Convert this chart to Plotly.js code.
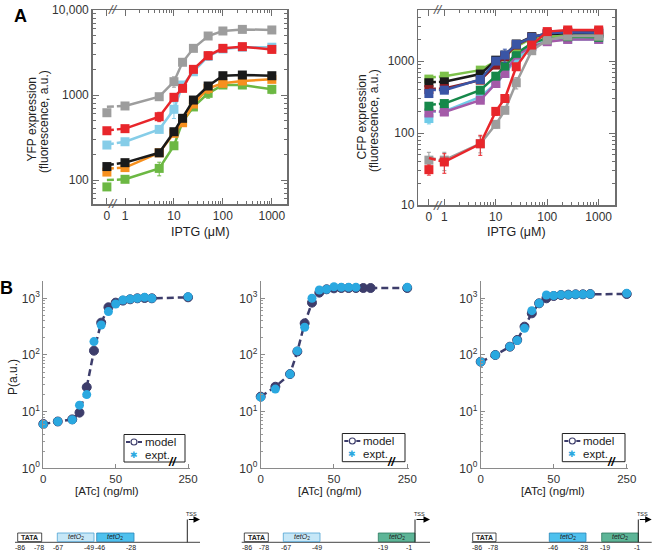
<!DOCTYPE html>
<html><head><meta charset="utf-8">
<script src="https://cdn.plot.ly/plotly-3.0.1.min.js"></script>
<style>html,body{margin:0;padding:0;background:#fff}</style>
</head><body><div id="chart" style="width:654px;height:551px"></div>
<script>
// ---------- DATA ----------
const IPTG = [0, 1, 5, 10, 15, 25, 50, 100, 250, 1000];
const iptgTickText = ['0', '1', '10', '100', '1000'];

// Panel A, YFP expression (fluorescence, a.u.)
const yfpGray   = [619, 743, 955, 1436, 2427, 3540, 4943, 5663, 5916, 5823];
const yfpRed    = [380, 402, 556, 940, 1197, 2004, 2905, 3540, 3706, 3440];
const yfpCyan   = [258, 282, 394, 679, 1311, 1878, 2850, 3480, 3650, 3650];
const yfpBlack  = [144, 160, 209, 370, 532, 873, 1276, 1687, 1718, 1687];
const yfpOrange = [124, 140, 209, 354, 472, 783, 1197, 1372, 1462, 1528];
const yfpGreen  = [83, 102, 137, 253, 485, 724, 1047, 1311, 1311, 1166];
const yfpFit0   = {gray: 728, red: 385, cyan: 262, black: 150, orange: 136, green: 100};
const yfpErrGray   = [30, 40, 60, 200, 150, 200, 400, 250, 200, 250];
const yfpErrRed    = [20, 20, 70, 90, 100, 150, 300, 250, 200, 300];
const yfpErrCyan   = [10, 15, 30, 150, 120, 100, 200, 200, 200, 200];
const yfpErrBlack  = [6, 8, 10, 20, 30, 60, 80, 100, 100, 100];
const yfpErrOrange = [6, 8, 10, 20, 30, 60, 150, 80, 80, 80];
const yfpErrGreen  = [4, 5, 25, 20, 30, 50, 130, 80, 80, 130];

// Panel A, CFP expression (fluorescence, a.u.)
const cfpLightGreen = [562, 617, 749, 1000, 1150, 1585, 2070, 2180, 2250, 2230];
const cfpBlack      = [500, 515, 660, 1030, 1210, 1727, 2185, 2357, 2430, 2430];
const cfpMaroon     = [402, 415, 543, 880, 1150, 1670, 2140, 2430, 2570, 2570];
const cfpBlue       = [354, 394, 555, 1000, 1213, 1708, 2140, 2430, 2510, 2480];
const cfpDarkGreen  = [236, 257, 394, 617, 852, 1280, 1763, 2070, 2180, 2140];
const cfpPurple     = [190, 196, 286, 488, 673, 1213, 1585, 1860, 2000, 2000];
const cfpLightCyan  = [159, 200, 318, 488, 673, 1055, 1585, 1922, 2000, 2000];
const cfpGray       = [42, 42, 71, 132, 207, 500, 1394, 1963, 2230, 2230];
const cfpRed        = [31, 39.6, 71, 200, 302, 834, 1670, 2570, 2707, 2707];
const cfpFit0 = {lightGreen: 590, black: 510, maroon: 410, blue: 400, darkGreen: 245, purple: 205, lightCyan: 200, gray: 45, red: 45};
const cfpErrLightGreen = [40, 40, 50, 80, 80, 100, 100, 100, 100, 100];
const cfpErrBlack      = [30, 30, 40, 80, 80, 100, 100, 100, 100, 100];
const cfpErrMaroon     = [30, 30, 40, 80, 80, 100, 100, 100, 100, 100];
const cfpErrBlue       = [30, 30, 40, 100, 250, 150, 150, 100, 100, 100];
const cfpErrDarkGreen  = [20, 20, 30, 50, 80, 100, 100, 100, 100, 100];
const cfpErrPurple     = [15, 15, 20, 40, 60, 100, 100, 100, 100, 100];
const cfpErrLightCyan  = [25, 15, 30, 40, 60, 100, 100, 100, 100, 100];
const cfpErrGray       = [12, 12, 18, 15, 20, 90, 150, 100, 100, 100];
const cfpErrRed        = [5, 12, 22, 25, 30, 80, 150, 150, 100, 100];

// Panel B, P (a.u.) vs [ATc] (ng/ml)
const ATC = [0, 10, 20, 25, 30, 35, 40, 45, 50, 55, 60, 65, 70, 75, 250];
const b1Model = [6.06, 6.7, 7.3, 9.6, 27, 119, 372, 694, 838, 910, 960, 1000, 1014, 1000, 1041];
const b1Expt  = [6.0, 6.7, 7.2, 13, 20, 172, 338, 582, 794, 935, 973, 1000, 1041, 1000, 1070];
const b2Model = [18.4, 27.5, 46, 115, 362, 838, 1259, 1442, 1500, 1520, 1520, 1520, 1520, 1520, 1520];
const b2Expt  = [18, 25, 46, 118, 308, 1000, 1400, 1440, 1600, 1560, 1560, 1560, null, null, 1560];
const b3Model = [76, 100, 140, 184, 316, 543, 816, 1000, 1099, 1145, 1160, 1176, 1176, 1190, 1190];
const b3Expt  = [76, 100, 140, 180, 295, 606, 816, 1145, 1115, 1150, 1160, 1176, 1176, 1190, 1225];
const atcTickVals = [0, 50, 100];
const atcTickText = ['0', '50', '250'];
const legendLabels = ['model', 'expt.'];

// ---------- HELPERS ----------
const W = 654, H = 551;
const px = x => x / W, py = y => 1 - y / H;
const FONT = 'Liberation Sans, Arial, sans-serif';
const NARROW = 'Liberation Sans Narrow, Arial Narrow, Liberation Sans, sans-serif';
const NAVY = '#3d3d6b', SKY = '#2aa8e0';
const traces = [];

function addA(vals, fit0, err, color, xa, ya, zeroPos) {
  const xs = IPTG.map(v => v === 0 ? zeroPos : v);
  traces.push({x: [zeroPos, 1], y: [fit0, vals[1]], mode: 'lines', line: {color, width: 2.5, dash: '7px,3px'},
    xaxis: xa, yaxis: ya, showlegend: false, hoverinfo: 'skip'});
  traces.push({x: xs.slice(1), y: vals.slice(1), mode: 'lines', line: {color, width: 2.5},
    xaxis: xa, yaxis: ya, showlegend: false});
  traces.push({x: xs, y: vals, mode: 'markers', marker: {symbol: 'square', size: 9, color},
    error_y: {type: 'data', array: err, color, thickness: 1, width: 2},
    xaxis: xa, yaxis: ya, showlegend: false, cliponaxis: false});
}

const zeroL = Math.pow(10, -0.37), zeroR = Math.pow(10, -0.30);
addA(yfpGreen, yfpFit0.green, yfpErrGreen, '#6cb843', 'x', 'y', zeroL);
addA(yfpOrange, yfpFit0.orange, yfpErrOrange, '#f7901e', 'x', 'y', zeroL);
addA(yfpBlack, yfpFit0.black, yfpErrBlack, '#1a1a1a', 'x', 'y', zeroL);
addA(yfpCyan, yfpFit0.cyan, yfpErrCyan, '#86cde8', 'x', 'y', zeroL);
addA(yfpRed, yfpFit0.red, yfpErrRed, '#e8262b', 'x', 'y', zeroL);
addA(yfpGray, yfpFit0.gray, yfpErrGray, '#9d9d9d', 'x', 'y', zeroL);

addA(cfpLightCyan, cfpFit0.lightCyan, cfpErrLightCyan, '#6fcbe8', 'x2', 'y2', zeroR);
addA(cfpPurple, cfpFit0.purple, cfpErrPurple, '#a45aa8', 'x2', 'y2', zeroR);
addA(cfpDarkGreen, cfpFit0.darkGreen, cfpErrDarkGreen, '#16884a', 'x2', 'y2', zeroR);
addA(cfpLightGreen, cfpFit0.lightGreen, cfpErrLightGreen, '#7dc14b', 'x2', 'y2', zeroR);
addA(cfpBlack, cfpFit0.black, cfpErrBlack, '#1a1a1a', 'x2', 'y2', zeroR);
addA(cfpMaroon, cfpFit0.maroon, cfpErrMaroon, '#8c1c20', 'x2', 'y2', zeroR);
addA(cfpBlue, cfpFit0.blue, cfpErrBlue, '#3a55a5', 'x2', 'y2', zeroR);
addA(cfpGray, cfpFit0.gray, cfpErrGray, '#9d9d9d', 'x2', 'y2', zeroR);
addA(cfpRed, cfpFit0.red, cfpErrRed, '#e8262b', 'x2', 'y2', zeroR);

function addB(model, expt, xa, ya) {
  const xs = ATC.map(v => v === 250 ? 100 : v);
  traces.push({x: xs, y: model, mode: 'lines+markers', name: legendLabels[0],
    line: {color: NAVY, width: 2.5, dash: '7px,4px'},
    marker: {symbol: 'circle', size: 9, color: NAVY, line: {color: NAVY, width: 1}},
    xaxis: xa, yaxis: ya, showlegend: false, cliponaxis: false});
  traces.push({x: xs, y: expt, mode: 'markers', name: legendLabels[1],
    marker: {symbol: 'circle', size: 9, color: SKY},
    xaxis: xa, yaxis: ya, showlegend: false, cliponaxis: false});
}
addB(b1Model, b1Expt, 'x3', 'y3');
addB(b2Model, b2Expt, 'x4', 'y4');
addB(b3Model, b3Expt, 'x5', 'y5');

// ---------- AXES ----------
const minorLog = (a, b) => { const r = []; for (let e = a; e <= b; e++) for (let k = 2; k <= 9; k++) r.push(k * Math.pow(10, e)); return r; };
const axA = (extra) => Object.assign({
  showline: true, linecolor: '#6e6e6e', linewidth: 1.5, mirror: 'allticks',
  ticks: 'inside', ticklen: 6, tickwidth: 1, tickcolor: '#6e6e6e',
  showgrid: false, zeroline: false, tickmode: 'array',
  tickfont: {family: FONT, size: 12, color: '#333'}, fixedrange: true
}, extra);

const axB = (extra) => Object.assign({
  showline: true, linecolor: '#8a8a8a', linewidth: 1, mirror: false,
  ticks: 'inside', ticklen: 4, tickcolor: '#8a8a8a',
  showgrid: false, zeroline: false, tickmode: 'array',
  tickfont: {family: FONT, size: 12, color: '#333'}
}, extra);

const yB = (anchor) => axB({type: 'log', range: [0, 3.3], domain: [py(468.3), py(281.3)], anchor,
  tickvals: [1, 10, 100, 1000], ticktext: ['10<sup>0</sup>', '10<sup>1</sup>', '10<sup>2</sup>', '10<sup>3</sup>'],
  minor: {tickmode: 'array', tickvals: minorLog(0, 2), ticks: 'inside', ticklen: 2, tickcolor: '#9a9a9a'}});
const xB = (d0, d1, anchor) => axB({range: [0, 101], domain: [px(d0), px(d1)], anchor,
  tickvals: atcTickVals, ticktext: atcTickText, ticklabelstandoff: 0,
  tickfont: {family: FONT, size: 11.5, color: '#333'}});

// ---------- ANNOTATIONS & SHAPES ----------
const ann = [];
const shapes = [];
function txt(x, y, text, size, opts) {
  ann.push(Object.assign({xref: 'paper', yref: 'paper', x: px(x), y: py(y), text, showarrow: false,
    font: {family: FONT, size, color: '#222'}, xanchor: 'center', yanchor: 'middle'}, opts || {}));
}
txt(20, 16, '<b>A</b>', 18, {font: {family: FONT, size: 18, color: '#000'}});
txt(6, 288, '<b>B</b>', 18, {font: {family: FONT, size: 18, color: '#000'}});
// Panel A titles
txt(31.5, 119, 'YFP expression', 12, {textangle: -90});
txt(44, 121, '(fluorescence, a.u.)', 12, {textangle: -90});
txt(200, 232, 'IPTG (μM)', 12.5);
txt(361.5, 117, 'CFP expression', 12, {textangle: -90});
txt(374, 121, '(fluorescence, a.u.)', 12, {textangle: -90});
txt(516, 232, 'IPTG (μM)', 12.5);
// axis breaks in A
[[113, 10], [113, 204], [438, 10], [438, 205]].forEach(p => txt(p[0], p[1], '<i>//</i>', 13, {font: {family: FONT, size: 13, color: '#555'}}));
// Panel B titles
txt(107, 491, '[ATc] (ng/ml)', 11.5);
txt(330, 491, '[ATc] (ng/ml)', 11.5);
txt(553, 491, '[ATc] (ng/ml)', 11.5);
txt(13, 377, 'P(a.u.)', 12, {textangle: -90});
['x3', 'x4', 'x5'].forEach(xr => ann.push({xref: xr, yref: 'paper', x: 89.5, y: py(471), text: '<b><i>//</i></b>',
  showarrow: false, font: {family: FONT, size: 12, color: '#000'}}));

// Legends in panel B (drawn by hand to match the compact box)
function legendBox(x0, x1, y0, y1, symX, textX) {
  shapes.push({type: 'rect', xref: 'paper', yref: 'paper', x0: px(x0), x1: px(x1), y0: py(y1), y1: py(y0),
    fillcolor: '#fff', line: {color: '#222', width: 1}});
  const r1 = y0 + 7.5, r2 = y0 + 20;
  shapes.push({type: 'line', xref: 'paper', yref: 'paper', x0: px(symX - 8), x1: px(symX + 8), y0: py(r1), y1: py(r1),
    line: {color: NAVY, width: 2, dash: '4px,2px'}});
  shapes.push({type: 'circle', xref: 'paper', yref: 'paper', x0: px(symX - 3), x1: px(symX + 3), y0: py(r1 + 3), y1: py(r1 - 3),
    fillcolor: '#fff', line: {color: NAVY, width: 1.2}});
  txt(symX, r2, '✱', 9, {font: {family: 'DejaVu Sans, sans-serif', size: 9, color: SKY}});
  txt(textX, r1, legendLabels[0], 11.5, {xanchor: 'left'});
  txt(textX, r2, legendLabels[1], 11.5, {xanchor: 'left'});
}
legendBox(124, 185, 434.5, 462, 134, 142.5);
legendBox(342.3, 405, 433.5, 461.7, 352.3, 361);
legendBox(562.3, 625, 433.5, 461.7, 572.3, 581);

// Promoter diagrams
const baseY = 542.3, boxTop = 533, boxBot = 541.6, tssTop = 519.5;
function promoter(lineX0, lineX1, boxes, tssX, labels) {
  shapes.push({type: 'line', xref: 'paper', yref: 'paper', x0: px(lineX0), x1: px(lineX1), y0: py(baseY), y1: py(baseY), line: {color: '#444', width: 1}});
  boxes.forEach(b => {
    shapes.push({type: 'rect', xref: 'paper', yref: 'paper', x0: px(b.x0), x1: px(b.x1), y0: py(boxBot), y1: py(boxTop),
      fillcolor: b.fill, line: {color: b.border, width: 0.8}});
    txt((b.x0 + b.x1) / 2, (boxTop + boxBot) / 2, b.text, 7, {font: {family: NARROW, size: 7, color: '#222'}});
  });
  shapes.push({type: 'line', xref: 'paper', yref: 'paper', x0: px(tssX), x1: px(tssX), y0: py(baseY), y1: py(tssTop), line: {color: '#222', width: 1}});
  ann.push({xref: 'paper', yref: 'paper', x: px(lineX1), y: py(tssTop), axref: 'pixel', ayref: 'pixel', ax: -(lineX1 - tssX), ay: 0,
    text: '', showarrow: true, arrowhead: 2, arrowsize: 1.3, arrowwidth: 1, arrowcolor: '#000', standoff: 0});
  txt(tssX + 4, 513.5, 'TSS', 5.5, {font: {family: NARROW, size: 5.5, color: '#222'}});
  labels.forEach(l => txt(l[0], 547.5, l[1], 7, {font: {family: NARROW, size: 7, color: '#222'}}));
}
const TATA = '<b>TATA</b>', TET = '<i>tetO</i><sub>2</sub>';
const cLight = '#c6e7f7', bLight = '#4fa3d3', cMid = '#4ec1ee', bMid = '#2a86b8', cTeal = '#5db597', bTeal = '#2c7a5e';
promoter(15, 200, [
  {x0: 17.7, x1: 41.7, fill: '#fff', border: '#222', text: TATA},
  {x0: 57.3, x1: 94, fill: cLight, border: bLight, text: TET},
  {x0: 96.7, x1: 134, fill: cMid, border: bMid, text: TET}], 187.3,
  [[20, '-86'], [39.3, '-78'], [58.3, '-67'], [89.3, '-49'], [100, '-46'], [130.7, '-28']]);
promoter(241.7, 430, [
  {x0: 244.3, x1: 268.3, fill: '#fff', border: '#222', text: TATA},
  {x0: 283.3, x1: 320, fill: cLight, border: bLight, text: TET},
  {x0: 378.3, x1: 415, fill: cTeal, border: bTeal, text: TET}], 415,
  [[246.7, '-86'], [264.3, '-78'], [286, '-67'], [316.7, '-49'], [382.7, '-19'], [409.3, '-1']]);
promoter(471.7, 651.7, [
  {x0: 472.7, x1: 496, fill: '#fff', border: '#222', text: TATA},
  {x0: 549.3, x1: 586, fill: cMid, border: bMid, text: TET},
  {x0: 601.7, x1: 638.3, fill: cTeal, border: bTeal, text: TET}], 638.3,
  [[476.7, '-86'], [493.3, '-78'], [552.7, '-46'], [582.7, '-28'], [605, '-19'], [636.7, '-1']]);

const layout = {
  width: W, height: H, autosize: false,
  margin: {l: 0, r: 0, t: 0, b: 0},
  paper_bgcolor: '#fff', plot_bgcolor: 'rgba(0,0,0,0)',
  font: {family: FONT, color: '#222'},
  xaxis: axA({type: 'log', range: [-0.66, 3.31], domain: [px(92.7), px(287)], anchor: 'y',
    tickvals: [zeroL, 1, 10, 100, 1000], ticktext: iptgTickText,
    minor: {tickmode: 'array', tickvals: minorLog(0, 2), ticks: 'inside', ticklen: 3, tickcolor: '#6e6e6e'}}),
  yaxis: axA({type: 'log', range: [1.718, 4.0], domain: [py(204), py(10)], anchor: 'x',
    tickvals: [100, 1000, 10000], ticktext: ['100', '1000', '10,000'],
    minor: {tickmode: 'array', tickvals: minorLog(1, 3).filter(v => v > 52), ticks: 'inside', ticklen: 3, tickcolor: '#6e6e6e'}}),
  xaxis2: axA({type: 'log', range: [-0.506, 3.317], domain: [px(418.3), px(615)], anchor: 'y2',
    tickvals: [zeroR, 1, 10, 100, 1000], ticktext: iptgTickText,
    minor: {tickmode: 'array', tickvals: minorLog(0, 2), ticks: 'inside', ticklen: 3, tickcolor: '#6e6e6e'}}),
  yaxis2: axA({type: 'log', range: [1, 3.71], domain: [py(205), py(10)], anchor: 'x2',
    tickvals: [10, 100, 1000], ticktext: ['10', '100', '1000'],
    minor: {tickmode: 'array', tickvals: minorLog(1, 3).filter(v => v < 5200), ticks: 'inside', ticklen: 3, tickcolor: '#6e6e6e'}}),
  xaxis3: xB(43.3, 189.5, 'y3'), yaxis3: yB('x3'),
  xaxis4: xB(260.7, 408.7, 'y4'), yaxis4: yB('x4'),
  xaxis5: xB(480.7, 628.2, 'y5'), yaxis5: yB('x5'),
  annotations: ann, shapes: shapes, showlegend: false
};
Plotly.newPlot('chart', traces, layout, {staticPlot: true, displayModeBar: false});
</script></body></html>
